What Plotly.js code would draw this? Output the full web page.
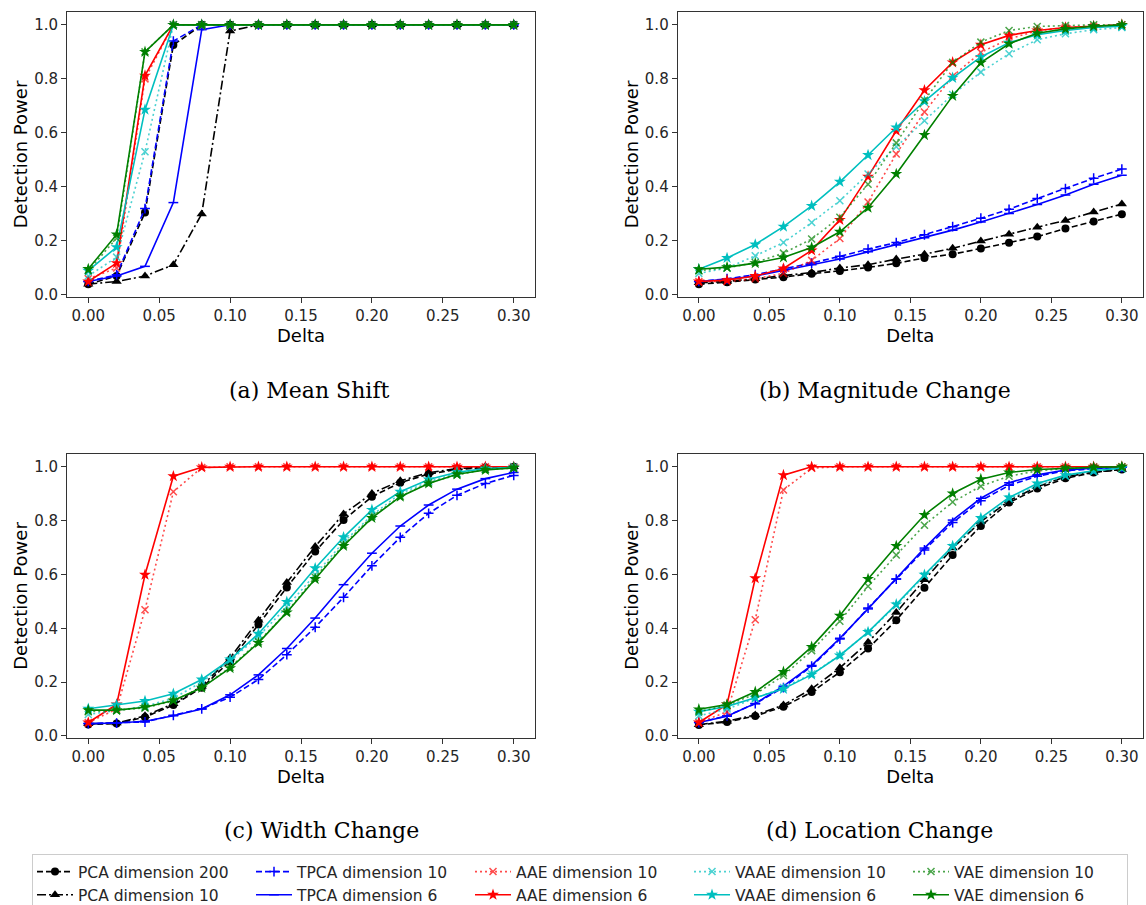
<!DOCTYPE html>
<html>
<head>
<meta charset="utf-8">
<script src="https://cdn.plot.ly/plotly-3.0.1.min.js"></script>
<style>
html,body{margin:0;padding:0;background:#ffffff;overflow:hidden;}
#chart{width:1146px;height:905px;}
</style>
</head>
<body>
<div id="chart"></div>
<script>
// ---------------- DATA ----------------
const delta = [0.00,0.02,0.04,0.06,0.08,0.10,0.12,0.14,0.16,0.18,0.20,0.22,0.24,0.26,0.28,0.30];

const seriesNames = ['PCA dimension 200','PCA dimension 10','TPCA dimension 10','TPCA dimension 6',
  'AAE dimension 10','AAE dimension 6','VAAE dimension 10','VAAE dimension 6','VAE dimension 10','VAE dimension 6'];

const panelCaptions = ['(a) Mean Shift','(b) Magnitude Change','(c) Width Change','(d) Location Change'];

// (a) Mean Shift
const ms_pca200 = [0.04,0.07,0.305,0.925,1,1,1,1,1,1,1,1,1,1,1,1];
const ms_pca10  = [0.04,0.05,0.07,0.112,0.30,0.977,1,1,1,1,1,1,1,1,1,1];
const ms_tpca10 = [0.05,0.075,0.32,0.94,1,1,1,1,1,1,1,1,1,1,1,1];
const ms_tpca6  = [0.05,0.07,0.106,0.342,0.982,1,1,1,1,1,1,1,1,1,1,1];
const ms_aae10  = [0.06,0.10,0.80,1,1,1,1,1,1,1,1,1,1,1,1,1];
const ms_aae6   = [0.05,0.118,0.812,1,1,1,1,1,1,1,1,1,1,1,1,1];
const ms_vaae10 = [0.07,0.14,0.53,1,1,1,1,1,1,1,1,1,1,1,1,1];
const ms_vaae6  = [0.09,0.177,0.686,1,1,1,1,1,1,1,1,1,1,1,1,1];
const ms_vae10  = [0.09,0.21,0.90,1,1,1,1,1,1,1,1,1,1,1,1,1];
const ms_vae6   = [0.096,0.224,0.90,1,1,1,1,1,1,1,1,1,1,1,1,1];

// (b) Magnitude Change
const mc_pca200 = [0.04,0.047,0.057,0.066,0.079,0.089,0.102,0.117,0.137,0.151,0.172,0.193,0.216,0.246,0.272,0.299];
const mc_pca10  = [0.045,0.05,0.06,0.072,0.083,0.10,0.112,0.133,0.151,0.173,0.20,0.225,0.251,0.276,0.307,0.337];
const mc_tpca10 = [0.05,0.06,0.075,0.096,0.118,0.143,0.17,0.194,0.223,0.253,0.284,0.317,0.357,0.394,0.432,0.466];
const mc_tpca6  = [0.05,0.058,0.07,0.09,0.112,0.133,0.16,0.185,0.212,0.24,0.27,0.302,0.335,0.37,0.41,0.443];
const mc_aae10  = [0.05,0.05,0.06,0.08,0.128,0.209,0.344,0.522,0.677,0.81,0.898,0.948,0.978,0.99,0.995,1.0];
const mc_aae6   = [0.05,0.055,0.07,0.098,0.165,0.278,0.438,0.608,0.758,0.861,0.926,0.961,0.979,0.99,0.995,1.0];
const mc_vaae10 = [0.08,0.10,0.145,0.194,0.268,0.349,0.448,0.549,0.645,0.742,0.825,0.893,0.945,0.967,0.982,0.99];
const mc_vaae6  = [0.095,0.137,0.187,0.253,0.33,0.419,0.518,0.62,0.717,0.804,0.881,0.934,0.963,0.979,0.99,0.995];
const mc_vae10  = [0.09,0.10,0.12,0.155,0.207,0.288,0.41,0.563,0.721,0.861,0.936,0.979,0.994,0.997,1.0,1.0];
const mc_vae6   = [0.095,0.103,0.118,0.139,0.176,0.234,0.323,0.448,0.592,0.737,0.86,0.93,0.969,0.985,0.995,1.0];

// (c) Width Change
const wc_pca200 = [0.043,0.046,0.07,0.115,0.179,0.278,0.414,0.552,0.685,0.802,0.889,0.941,0.973,0.99,0.997,1.0];
const wc_pca10  = [0.045,0.048,0.075,0.12,0.185,0.29,0.43,0.57,0.704,0.825,0.901,0.948,0.978,0.993,1.0,1.0];
const wc_tpca10 = [0.046,0.048,0.052,0.077,0.101,0.144,0.21,0.302,0.404,0.515,0.632,0.738,0.827,0.894,0.938,0.968];
const wc_tpca6  = [0.046,0.048,0.055,0.075,0.10,0.153,0.227,0.325,0.438,0.562,0.679,0.78,0.858,0.917,0.956,0.979];
const wc_aae10  = [0.05,0.10,0.469,0.907,0.997,1,1,1,1,1,1,1,1,1,1,1];
const wc_aae6   = [0.05,0.117,0.599,0.965,0.998,1,1,1,1,1,1,1,1,1,1,1];
const wc_vaae10 = [0.08,0.095,0.11,0.14,0.20,0.28,0.37,0.48,0.60,0.72,0.82,0.90,0.945,0.975,0.99,1.0];
const wc_vaae6  = [0.101,0.116,0.13,0.157,0.21,0.284,0.38,0.498,0.623,0.738,0.84,0.907,0.953,0.98,0.993,0.998];
const wc_vae10  = [0.09,0.095,0.105,0.13,0.18,0.255,0.35,0.46,0.59,0.71,0.815,0.89,0.94,0.97,0.99,0.995];
const wc_vae6   = [0.096,0.096,0.107,0.132,0.179,0.252,0.346,0.459,0.583,0.706,0.81,0.889,0.938,0.972,0.988,0.996];

// (d) Location Change
const lc_pca200 = [0.041,0.052,0.074,0.109,0.163,0.237,0.325,0.43,0.551,0.672,0.78,0.867,0.919,0.957,0.979,0.99];
const lc_pca10  = [0.042,0.055,0.078,0.115,0.175,0.253,0.348,0.459,0.58,0.698,0.796,0.874,0.926,0.963,0.98,0.99];
const lc_tpca10 = [0.05,0.075,0.12,0.18,0.259,0.36,0.475,0.583,0.691,0.793,0.874,0.931,0.965,0.985,0.993,0.998];
const lc_tpca6  = [0.05,0.073,0.121,0.185,0.262,0.363,0.472,0.583,0.698,0.802,0.883,0.941,0.97,0.988,0.995,0.998];
const lc_aae10  = [0.05,0.09,0.432,0.914,0.995,1,1,1,1,1,1,1,1,1,1,1];
const lc_aae6   = [0.05,0.117,0.586,0.969,1,1,1,1,1,1,1,1,1,1,1,1];
const lc_vaae10 = [0.075,0.10,0.14,0.18,0.23,0.30,0.385,0.485,0.595,0.70,0.80,0.88,0.93,0.965,0.985,0.995];
const lc_vaae6  = [0.09,0.11,0.142,0.175,0.228,0.299,0.386,0.489,0.599,0.706,0.81,0.886,0.938,0.969,0.985,0.995];
const lc_vae10  = [0.09,0.115,0.155,0.225,0.317,0.426,0.556,0.672,0.783,0.869,0.928,0.965,0.985,0.993,0.998,1.0];
const lc_vae6   = [0.099,0.117,0.164,0.238,0.331,0.447,0.583,0.706,0.821,0.901,0.954,0.979,0.99,0.995,0.998,1.0];

// ---------------- STYLES ----------------
const DASH = '6px,3px', DASHDOT = '9px,3px,2px,3px', DOT = '2px,3px';
const styles = [
  {color:'#000000', dash:DASH,    symbol:'circle',      size:8, op:1,   rank:1},
  {color:'#000000', dash:DASHDOT, symbol:'triangle-up', size:9, op:1,   rank:6},
  {color:'#0000ff', dash:DASH,    symbol:'cross-thin',  size:7, op:1,   rank:2},
  {color:'#0000ff', dash:'solid', symbol:'line-ew',     size:7, op:1,   rank:7},
  {color:'#ff0000', dash:DOT,     symbol:'x-thin',      size:7, op:0.7, rank:3},
  {color:'#ff0000', dash:'solid', symbol:'star',        size:9, op:1,   rank:8},
  {color:'#00bfbf', dash:DOT,     symbol:'x-thin',      size:7, op:0.7, rank:4},
  {color:'#00bfbf', dash:'solid', symbol:'star',        size:9, op:1,   rank:9},
  {color:'#008000', dash:DOT,     symbol:'x-thin',      size:7, op:0.7, rank:5},
  {color:'#008000', dash:'solid', symbol:'star',        size:9, op:1,   rank:10}
];

const panels = [
  [ms_pca200,ms_pca10,ms_tpca10,ms_tpca6,ms_aae10,ms_aae6,ms_vaae10,ms_vaae6,ms_vae10,ms_vae6],
  [mc_pca200,mc_pca10,mc_tpca10,mc_tpca6,mc_aae10,mc_aae6,mc_vaae10,mc_vaae6,mc_vae10,mc_vae6],
  [wc_pca200,wc_pca10,wc_tpca10,wc_tpca6,wc_aae10,wc_aae6,wc_vaae10,wc_vaae6,wc_vae10,wc_vae6],
  [lc_pca200,lc_pca10,lc_tpca10,lc_tpca6,lc_aae10,lc_aae6,lc_vaae10,lc_vaae6,lc_vae10,lc_vae6]
];

const traces = [];
panels.forEach((series, p) => {
  const ax = p === 0 ? '' : String(p + 1);
  series.forEach((vals, i) => {
    const s = styles[i];
    const thin = s.symbol.indexOf('thin') >= 0 || s.symbol === 'line-ew';
    traces.push({
      type:'scatter', mode:'lines+markers',
      x: delta, y: vals,
      xaxis:'x' + ax, yaxis:'y' + ax,
      name: seriesNames[i], legendgroup: seriesNames[i], legendrank: s.rank,
      showlegend: p === 0,
      opacity: s.op,
      line:{color:s.color, width:1.6, dash:s.dash},
      marker:{symbol:s.symbol, size:s.size, color:s.color,
              line:{color:s.color, width: thin ? 1.5 : 0}}
    });
  });
});

// ---------------- LAYOUT ----------------
const W = 1146, H = 905;
const xdomL = [67/W, 535/W], xdomR = [677.7/W, 1143/W];
const ydomT = [1-297/H, 1-12/H], ydomB = [1-738/H, 1-454/H];

const tickFont = {family:'DejaVu Sans', size:15, color:'#262626'};
const titleFont = {family:'DejaVu Sans', size:18, color:'#000000'};

function xAxis(dom, anchor){
  return {domain:dom, anchor:anchor, range:[-0.015,0.315], tickmode:'linear', tick0:0, dtick:0.05,
    tickformat:'.2f', showline:true, mirror:true, linecolor:'#333333', linewidth:1,
    ticks:'outside', ticklen:5, tickwidth:1, tickcolor:'#333333', showgrid:false, zeroline:false,
    automargin:false,
    tickfont:tickFont, title:{text:'Delta', font:titleFont, standoff:4}};
}
function yAxis(dom, anchor){
  return {domain:dom, anchor:anchor, range:[-0.0075,1.0475], tickmode:'linear', tick0:0, dtick:0.2,
    tickformat:'.1f', showline:true, mirror:true, linecolor:'#333333', linewidth:1,
    ticks:'outside', ticklen:5, tickwidth:1, tickcolor:'#333333', showgrid:false, zeroline:false,
    automargin:false,
    tickfont:tickFont, title:{text:'Detection Power', font:titleFont, standoff:1}};
}

const capPos = [[309,390],[885,390],[321,830],[879,830]];
const annotations = panelCaptions.map((t, i) => ({
  text:t, xref:'paper', yref:'paper', x:capPos[i][0]/W, y:1-capPos[i][1]/H,
  xanchor:'center', yanchor:'middle', showarrow:false,
  font:{family:'DejaVu Serif', size:22, color:'#000000'}
}));

const layout = {
  width:W, height:H, margin:{l:0,r:0,t:0,b:0, autoexpand:false},
  paper_bgcolor:'#ffffff', plot_bgcolor:'#ffffff',
  showlegend:true,
  xaxis:xAxis(xdomL,'y'),  yaxis:yAxis(ydomT,'x'),
  xaxis2:xAxis(xdomR,'y2'), yaxis2:yAxis(ydomT,'x2'),
  xaxis3:xAxis(xdomL,'y3'), yaxis3:yAxis(ydomB,'x3'),
  xaxis4:xAxis(xdomR,'y4'), yaxis4:yAxis(ydomB,'x4'),
  legend:{orientation:'h', xref:'container', yref:'container',
    x:32/W, xanchor:'left', y:1-854/H, yanchor:'top',
    bgcolor:'#ffffff', bordercolor:'#cccccc', borderwidth:1,
    font:{family:'DejaVu Sans', size:15.5, color:'#262626'},
    entrywidth:168, entrywidthmode:'pixels', itemwidth:36, tracegroupgap:0},
  annotations:annotations
};

Plotly.newPlot('chart', traces, layout, {displayModeBar:false, staticPlot:true});
</script>
</body>
</html>
